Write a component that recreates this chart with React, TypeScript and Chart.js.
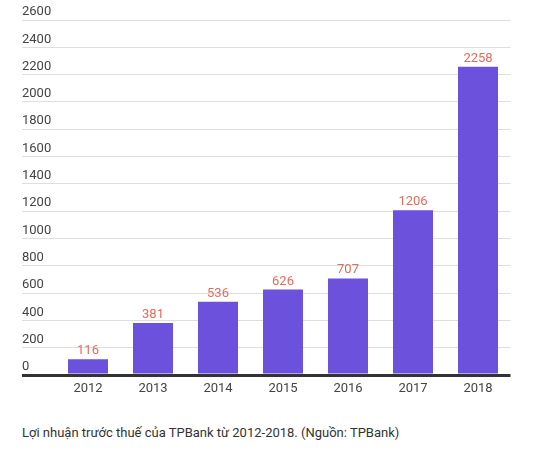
import { useEffect, useRef } from 'react'
import Chart from 'chart.js/auto'

const years = ['2012', '2013', '2014', '2015', '2016', '2017', '2018']
const profit = [116, 381, 536, 626, 707, 1206, 2258]
const yMax = 2600
const yStep = 200
const caption = 'Lợi nhuận trước thuế của TPBank từ 2012-2018. (Nguồn: TPBank)'

const FONT = 'Roboto, "Noto Sans", Arial, sans-serif'

// value labels above each bar
const barLabels = {
  id: 'barLabels',
  afterDatasetsDraw(chart: any) {
    const { ctx } = chart
    const meta = chart.getDatasetMeta(0)
    ctx.save()
    ctx.font = `13px ${FONT}`
    ctx.fillStyle = '#e9695a'
    ctx.textAlign = 'center'
    ctx.textBaseline = 'alphabetic'
    meta.data.forEach((bar: any, i: number) => {
      ctx.fillText(String(profit[i]), bar.x, bar.y - 5)
    })
    ctx.restore()
  }
}

const isZero = (c: any) => c.tick && c.tick.value === 0

export default function App() {
  const chartRef = useRef<HTMLCanvasElement>(null)
  const chartInstance = useRef<Chart | null>(null)

  useEffect(() => {
    if (!chartRef.current) return
    if (chartInstance.current) chartInstance.current.destroy()

    chartInstance.current = new Chart(chartRef.current, {
      type: 'bar',
      data: {
        labels: years,
        datasets: [{
          data: profit,
          backgroundColor: '#6b51dc',
          barPercentage: 1,
          categoryPercentage: 40 / 65
        }]
      },
      options: {
        animation: false,
        responsive: false,
        layout: { padding: { left: 22, top: 20, right: 22.5, bottom: 5.4 } },
        plugins: {
          legend: { display: false },
          tooltip: { enabled: false }
        },
        scales: {
          x: {
            grid: { display: false, drawTicks: false },
            border: { display: false },
            ticks: {
              color: '#444',
              font: { family: FONT, size: 13 },
              padding: 6
            }
          },
          y: {
            min: 0,
            max: yMax,
            afterFit: (scale: any) => { scale.width = 33.5 },
            border: { display: false },
            grid: {
              color: (c: any) => (isZero(c) ? '#333' : '#dedede'),
              lineWidth: (c: any) => (isZero(c) ? 3 : 1),
              tickColor: (c: any) => (isZero(c) ? '#333' : '#dedede'),
              tickWidth: (c: any) => (isZero(c) ? 3 : 1),
              tickLength: 33.5
            },
            ticks: {
              stepSize: yStep,
              crossAlign: 'far',
              labelOffset: -8,
              padding: 0,
              color: '#444',
              font: { family: FONT, size: 13 },
              callback: (value: any) => String(value)
            }
          }
        }
      },
      plugins: [barLabels]
    })

    return () => {
      if (chartInstance.current) {
        chartInstance.current.destroy()
        chartInstance.current = null
      }
    }
  }, [])

  return (
    <div style={{ fontFamily: FONT }}>
      <style>{'body { margin: 0; }'}</style>
      <canvas ref={chartRef} width={533} height={408} style={{ display: 'block' }} />
      <div style={{ marginTop: 16, paddingLeft: 22, fontSize: 13, lineHeight: '18px', color: '#333' }}>
        {caption}
      </div>
    </div>
  )
}
